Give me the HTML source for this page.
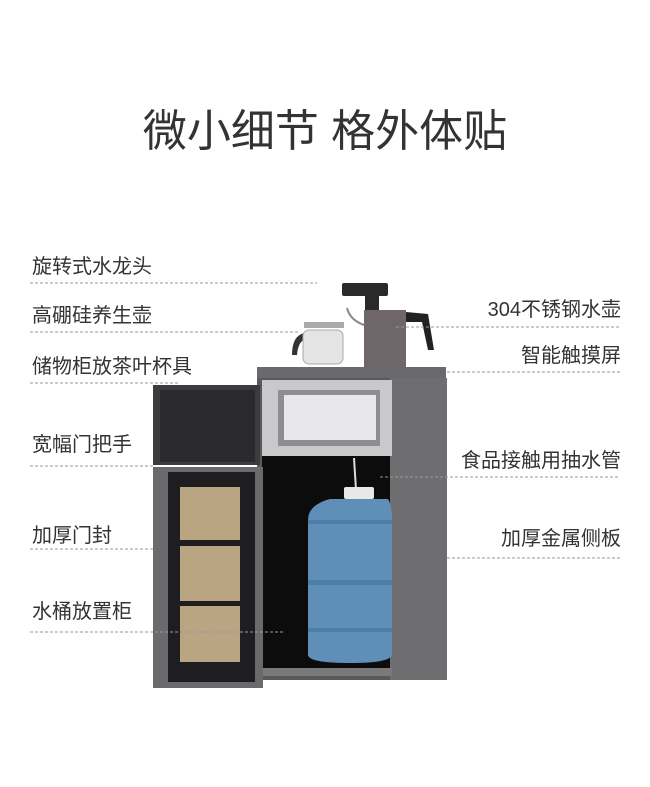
<!DOCTYPE html>
<html><head><meta charset="utf-8"><style>
body{margin:0;background:#fff;}
svg{display:block}
text{font-family:"Liberation Sans","Noto Sans CJK SC",sans-serif;fill:#333}
.d{stroke:#999;stroke-width:1;stroke-dasharray:3 2;fill:none}
</style></head><body>
<svg width="650" height="787" viewBox="0 0 650 787">
<rect width="650" height="787" fill="#fff"/>
<text x="325" y="146" font-size="44" text-anchor="middle" fill="#1a1a1a">微小细节 格外体贴</text>

<!-- cabinet body -->
<polygon points="257,367 446,367 446,680 257,680" fill="#5a5a5c"/>
<rect x="257" y="367" width="189" height="11" fill="#6a6a6c"/>
<rect x="390" y="378" width="57" height="302" fill="#6e6e70"/>
<rect x="262" y="380" width="130" height="76" fill="#c9c9cb"/>
<rect x="278" y="390" width="102" height="56" fill="#8e8e90"/>
<rect x="284" y="395" width="92" height="45" fill="#e8e8ea"/>
<rect x="262" y="456" width="128" height="215" fill="#0c0c0c"/>
<rect x="262" y="668" width="130" height="8" fill="#7a7a7c"/>
<line x1="354" y1="458" x2="356" y2="490" stroke="#ddd" stroke-width="2"/>
<!-- bottle -->
<rect x="344" y="487" width="30" height="12" rx="2" fill="#e8e8e6"/>
<path d="M330,499 L388,499 Q392,505 392,520 L392,655 Q390,663 350,663 Q309,663 308,655 L308,520 Q308,505 330,499 Z" fill="#5f8fb8"/>
<rect x="308" y="520" width="84" height="4" fill="#4d7ea8"/>
<rect x="308" y="580" width="84" height="5" fill="#4d7ea8"/>
<rect x="308" y="628" width="84" height="4" fill="#4d7ea8"/>
<!-- doors -->
<rect x="153" y="385" width="107" height="80" fill="#3c3c3e"/>
<rect x="160" y="390" width="95" height="72" fill="#2a2a2c"/>
<rect x="153" y="467" width="110" height="221" fill="#6a6a6c"/>
<rect x="168" y="472" width="87" height="210" fill="#1e1e20"/>
<rect x="180" y="487" width="60" height="53" fill="#b9a582"/>
<rect x="180" y="546" width="60" height="55" fill="#b9a582"/>
<rect x="180" y="606" width="60" height="56" fill="#b9a582"/>
<!-- teapot -->
<path d="M305,333 Q292,335 292,355 L297,355 Q298,340 308,338 Z" fill="#333"/>
<rect x="303" y="330" width="40" height="34" rx="6" fill="#e4e4e4" stroke="#aaa"/>
<rect x="304" y="322" width="40" height="6" fill="#aaa"/>
<!-- kettle -->
<rect x="342" y="283" width="46" height="13" rx="2" fill="#2a2a2a"/>
<rect x="365" y="294" width="14" height="16" fill="#2a2a2a"/>
<path d="M364,310 L406,310 L406,368 L364,368 Z" fill="#6e6668"/>
<path d="M406,312 L428,314 L434,350 L428,350 L422,322 L406,322 Z" fill="#222"/>
<path d="M364,325 Q350,320 347,308" stroke="#888" stroke-width="2" fill="none"/>

<!-- dashed lines -->
<line class="d" x1="30" y1="283" x2="317" y2="283"/>
<line class="d" x1="30" y1="332" x2="298" y2="332"/>
<line class="d" x1="30" y1="383" x2="180" y2="383"/>
<line class="d" x1="30" y1="466" x2="155" y2="466"/>
<line class="d" x1="30" y1="549" x2="155" y2="549"/>
<line class="d" x1="30" y1="632" x2="283" y2="632"/>
<line class="d" x1="396" y1="327" x2="620" y2="327"/>
<line class="d" x1="447" y1="372" x2="620" y2="372"/>
<line class="d" x1="380" y1="477" x2="620" y2="477"/>
<line class="d" x1="447" y1="558" x2="620" y2="558"/>

<g font-size="20">
<text x="32" y="273">旋转式水龙头</text>
<text x="32" y="322">高硼硅养生壶</text>
<text x="32" y="373">储物柜放茶叶杯具</text>
<text x="32" y="451">宽幅门把手</text>
<text x="32" y="542">加厚门封</text>
<text x="32" y="618">水桶放置柜</text>
<text x="621" y="316" text-anchor="end">304不锈钢水壶</text>
<text x="621" y="362" text-anchor="end">智能触摸屏</text>
<text x="621" y="467" text-anchor="end">食品接触用抽水管</text>
<text x="621" y="545" text-anchor="end">加厚金属侧板</text>
</g>
</svg>
</body></html>
